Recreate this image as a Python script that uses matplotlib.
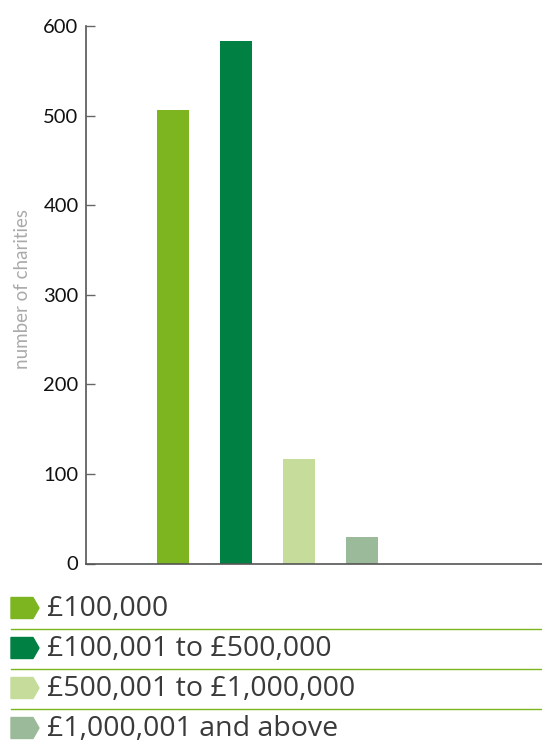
import matplotlib
matplotlib.use('Agg')
from matplotlib import pyplot as plt
from matplotlib.patches import Polygon

matplotlib.rcParams.update({'font.family': ['Lato', 'DejaVu Sans']})

bands = ['£100,000', '£100,001 to £500,000', '£500,001 to £1,000,000', '£1,000,001 and above']
charities = [506, 583, 117, 30]
colours = ['#7cb51f', '#008143', '#c5dc9b', '#9aba99']
yticks = [0, 100, 200, 300, 400, 500, 600]

W, H = 542, 744
fig = plt.figure(figsize=(W / 100, H / 100), dpi=100)

# chart area in pixels: left 85.5, right 542, top 26, bottom 563.5
left, top, bottom = 85.5, 26, 563.5
ax = fig.add_axes([left / W, (H - bottom) / H, (W - left) / W, (bottom - top) / H])
x = list(range(len(charities)))
ax.bar(x, charities, width=0.508, color=colours)
ax.set_xlim(-1.39, 5.86)
ax.set_ylim(0, 600)
ax.set_yticks(yticks)
ax.set_xticks([])
ax.tick_params(axis='y', direction='in', length=6.5, width=1, color='#666666',
               labelsize=14.5, labelcolor='#111111', pad=5)
for s in ['top', 'right']:
    ax.spines[s].set_visible(False)
for s in ['left', 'bottom']:
    ax.spines[s].set_color('#555555')
    ax.spines[s].set_linewidth(1.2)
ax.set_ylabel('number of charities', fontsize=13.5, color='#aaaaaa')
ax.yaxis.set_label_coords(-(left - 22) / (W - left), 0.51)
ax.yaxis.label.set_va('center')

# legend drawn below the chart in pixel coordinates
leg = fig.add_axes([0, 0, 1, 1], zorder=-1)
leg.set_xlim(0, W)
leg.set_ylim(H, 0)
leg.axis('off')
row0, step = 608, 40
for i, (label, c) in enumerate(zip(bands, colours)):
    yc = row0 + i * step
    pts = [(11, yc - 10.5), (33, yc - 10.5), (39, yc), (33, yc + 10.5), (11, yc + 10.5)]
    leg.add_patch(Polygon(pts, closed=True, facecolor=c, edgecolor=c, joinstyle='round', lw=1))
    leg.text(47, yc + 1, label, fontsize=20.5, color='#3a3a3a', va='center', ha='left',
             family=['Open Sans', 'DejaVu Sans'])
    if i < len(bands) - 1:
        leg.plot([11, W], [yc + 21, yc + 21], color='#7cb51f', lw=1)

fig.savefig('out.png', dpi=100)
